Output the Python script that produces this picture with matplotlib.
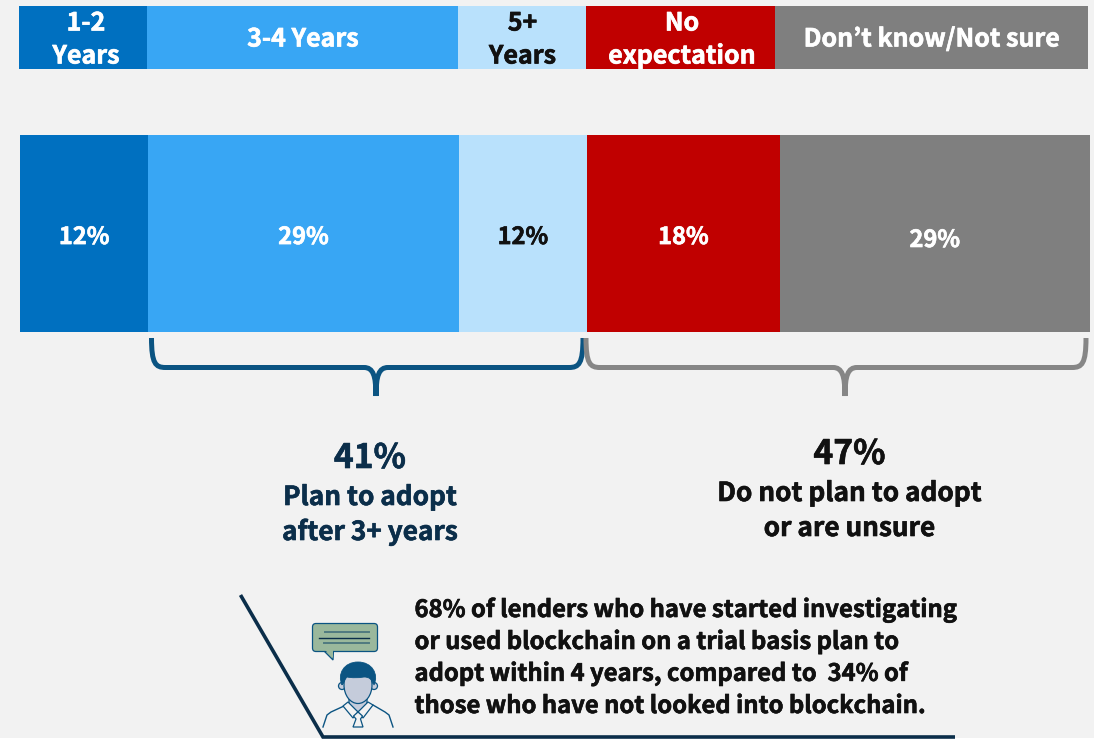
import matplotlib
matplotlib.use("Agg")
import matplotlib.pyplot as plt
import matplotlib.patheffects as pe
from matplotlib.patches import Polygon, Ellipse, FancyBboxPatch, PathPatch, Circle
from matplotlib.path import Path

plt.rcParams['font.family'] = ['Noto Sans CJK JP', 'DejaVu Sans']
plt.rcParams['font.weight'] = 'bold'

# header key
header_labels = ['1-2\nYears', '3-4 Years', '5+\nYears', 'No\nexpectation', 'Don\u2019t know/Not sure']
header_widths = [128, 311, 128, 189, 313]

# main bar
values = [12, 29, 12, 18, 29]
value_labels = ['12%', '29%', '12%', '18%', '29%']
colors = ['#0070C0', '#38A6F4', '#B9E1FC', '#C00000', '#7F7F7F']
text_colors = ['white', 'white', '#111111', 'white', 'white']

BG = '#F2F2F2'
NAVY = '#0B2E4A'
BLUE = '#0B5482'
W, H = 1094, 739

fig = plt.figure(figsize=(W / 100, H / 100), dpi=100, facecolor='white')

# pixel-coordinates axes for everything that isn't the main bar
ax = fig.add_axes([0, 0, 1, 1])
ax.set_xlim(0, W)
ax.set_ylim(H, 0)
ax.axis('off')
ax.add_patch(plt.Rectangle((0, 0), W, 738, fc=BG, ec='none', zorder=0))


def label(axes, x, y, s, color, size, ha='center'):
    # thin stroke because the original face is a bit heavier
    t = axes.text(x, y, s, color=color, fontsize=size, ha=ha, va='center', zorder=7)
    t.set_path_effects([pe.withStroke(linewidth=0.45, foreground=color)])
    return t


# key row, labels aren't quite centred in the original
header_dx = [3, 0.5, 0.5, 1.5, 0.5]
left = 19
for lab, w, c, dx in zip(header_labels, header_widths, colors, header_dx):
    ax.barh(37.5, w, left=left, height=63, color=c, zorder=1)
    tc = '#111111' if c == '#B9E1FC' else 'white'
    if '\n' in lab:
        top, bottom = lab.split('\n')
        label(ax, left + w / 2 + dx, 23.5, top, tc, 18)
        label(ax, left + w / 2 + dx, 56.5, bottom, tc, 18)
    else:
        label(ax, left + w / 2 + dx, 39.5, lab, tc, 18)
    left += w

# main stacked bar, x axis is percent
bar_ax = fig.add_axes([20 / W, 1 - 332 / H, 1070 / W, 197 / H])
bar_ax.set_xlim(0, 100)
bar_ax.set_ylim(0, 1)
bar_ax.axis('off')
start = 0
for i, v in enumerate(values):
    bar_ax.barh(0.5, v, left=start, height=1, color=colors[i])
    # the last label sits a little lower in the original
    y = 0.482 if i < 4 else 0.467
    label(bar_ax, start + v / 2, y, value_labels[i], text_colors[i], 17.0)
    start += v


def brace(x0, xm, x1, y0, y1, y2, color):
    verts = [(x0, y0), (x0, y1 - 4), (x0 + 4, y1), (x0 + 14, y1),
             (xm - 12, y1),
             (xm - 3, y1), (xm, y1 + 8), (xm, y2),
             (xm, y1 + 8), (xm + 3, y1), (xm + 12, y1),
             (x1 - 14, y1),
             (x1 - 4, y1), (x1, y1 - 4), (x1, y0)]
    codes = [Path.MOVETO, Path.CURVE4, Path.CURVE4, Path.CURVE4,
             Path.LINETO,
             Path.CURVE4, Path.CURVE4, Path.CURVE4,
             Path.CURVE4, Path.CURVE4, Path.CURVE4,
             Path.LINETO,
             Path.CURVE4, Path.CURVE4, Path.CURVE4]
    ax.add_patch(PathPatch(Path(verts, codes), fc='none', ec=color, lw=3.6, capstyle='butt', zorder=2))


brace(151.5, 376, 583, 338, 367.5, 396, BLUE)
brace(586, 845, 1086, 338, 367.5, 396, '#868686')

# group labels
label(ax, 370, 458.5, '41%', NAVY, 24.2)
label(ax, 370, 497.5, 'Plan to adopt', NAVY, 18.85)
label(ax, 370, 532.5, 'after 3+ years', NAVY, 18.85)
label(ax, 849.5, 454.5, '47%', '#111111', 24.2)
label(ax, 849.5, 493.5, 'Do not plan to adopt', '#111111', 18.85)
label(ax, 849.5, 528.5, 'or are unsure', '#111111', 18.85)

# callout
ax.plot([240.5, 323, 955], [595, 737, 737], color=NAVY, lw=2.6, solid_joinstyle='miter',
        solid_capstyle='butt', zorder=2)
note_lines = ['68% of lenders who have started investigating',
              'or used blockchain on a trial basis plan to',
              'adopt within 4 years, compared to  34% of',
              'those who have not looked into blockchain.']
for y, line in zip([610, 642, 674, 706], note_lines):
    label(ax, 414.5, y, line, '#111111', 17.15, ha='left')

# speech bubble
ax.add_patch(Polygon([(323, 650), (333, 660), (333.5, 650)], fc='#9AB89C', ec=BLUE, lw=0.9, zorder=3))
ax.add_patch(FancyBboxPatch((315, 626), 60, 23, boxstyle='round,pad=2.5,rounding_size=3.5',
                            fc='#9AB89C', ec=BLUE, lw=0.9, zorder=3))
ax.add_patch(Polygon([(324, 649), (333, 658), (333, 649)], fc='#9AB89C', ec='none', zorder=3))
ax.plot([325, 369], [632, 632], color='#4F7A80', lw=1.4, zorder=4)
ax.plot([319, 369], [637.5, 637.5], color=NAVY, lw=1.0, zorder=4)
ax.plot([323.5, 369], [643, 643], color='#4F7A80', lw=1.4, zorder=4)

# person: shoulders, collar, tie
ax.plot([323, 327, 331, 344], [727, 715, 712, 706], color=BLUE, lw=1.0, zorder=3)
ax.plot([393, 389, 385, 373], [727, 715, 712, 705], color=BLUE, lw=1.0, zorder=3)
ax.add_patch(Polygon([(349, 698), (349, 706), (358, 712), (367, 706), (367, 698)],
                     fc='#C5CCDB', ec=BLUE, lw=0.9, zorder=3))
ax.add_patch(Polygon([(343, 706), (348, 702), (358, 712), (353, 718)], fc=BG, ec=BLUE, lw=0.9, zorder=4))
ax.add_patch(Polygon([(373, 705), (368, 702), (358, 712), (363, 718)], fc=BG, ec=BLUE, lw=0.9, zorder=4))
ax.add_patch(Polygon([(358, 712), (353.5, 716), (356, 719), (353, 727), (363, 727), (360.5, 719), (362.5, 716)],
                     fc=BG, ec=BLUE, lw=0.9, zorder=4))
# head
ax.add_patch(Circle((342, 686), 3.5, fc='#C5CCDB', ec=BLUE, lw=0.9, zorder=4))
ax.add_patch(Circle((374, 686), 3.5, fc='#C5CCDB', ec=BLUE, lw=0.9, zorder=4))
ax.add_patch(Ellipse((358, 685), 28, 37, fc='#C5CCDB', ec=BLUE, lw=0.9, zorder=5))
hair_verts = [(342, 685), (337, 674), (344, 662), (358, 662), (372, 662), (379, 674), (374, 685),
              (372, 679), (369, 677), (364, 677), (358, 678), (352, 678), (347, 677),
              (345, 679), (344, 682), (342, 685)]
hair_codes = [Path.MOVETO] + [Path.CURVE4] * 6 + [Path.CURVE4] * 9
ax.add_patch(PathPatch(Path(hair_verts, hair_codes), fc=BLUE, ec=BLUE, lw=0.6, zorder=6))

fig.savefig('out.png', dpi=100, facecolor='white')
